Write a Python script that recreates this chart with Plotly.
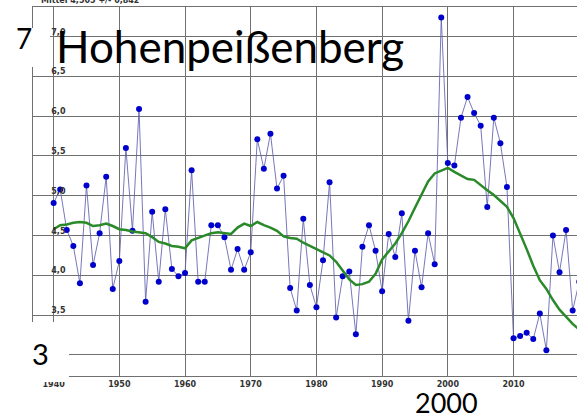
import plotly.graph_objects as go

# Annual series (deg C) and its smoothed trend, Hohenpeissenberg
years = list(range(1940, 2021))
annual = [
    4.91, 5.08, 4.57, 4.37, 3.90, 5.13, 4.13, 4.53, 5.24, 3.83,
    4.18, 5.60, 4.56, 6.09, 3.67, 4.80, 3.92, 4.83, 4.08, 3.99,
    4.03, 5.32, 3.92, 3.92, 4.63, 4.63, 4.48, 4.07, 4.33, 4.07,
    4.29, 5.71, 5.34, 5.78, 5.09, 5.25, 3.84, 3.56, 4.71, 3.88,
    3.60, 4.19, 5.17, 3.47, 3.99, 4.05, 3.26, 4.36, 4.63, 4.31,
    3.80, 4.52, 4.23, 4.78, 3.43, 4.31, 3.85, 4.53, 4.14, 7.24,
    5.41, 5.38, 5.98, 6.24, 6.04, 5.88, 4.86, 5.98, 5.66, 5.11,
    3.21, 3.24, 3.28, 3.20, 3.52, 3.06, 4.50, 4.04, 4.57, 3.56,
    3.92,
]
smooth = [
    4.58, 4.63, 4.64, 4.66, 4.67, 4.66, 4.62, 4.63, 4.65, 4.62,
    4.58, 4.57, 4.55, 4.54, 4.53, 4.48, 4.42, 4.40, 4.37, 4.36,
    4.34, 4.44, 4.47, 4.50, 4.53, 4.54, 4.53, 4.52, 4.60, 4.65,
    4.62, 4.67, 4.63, 4.60, 4.56, 4.49, 4.47, 4.46, 4.41, 4.37,
    4.33, 4.29, 4.25, 4.17, 4.06, 3.95, 3.88, 3.89, 3.92, 4.02,
    4.20, 4.30, 4.40, 4.53, 4.68, 4.85, 5.02, 5.18, 5.28, 5.32,
    5.35, 5.30, 5.25, 5.21, 5.20, 5.13, 5.07, 5.01, 4.94, 4.86,
    4.72, 4.53, 4.33, 4.12, 3.94, 3.83, 3.69, 3.57, 3.48, 3.39,
    3.32,
]

x_tick_vals = [1940, 1950, 1960, 1970, 1980, 1990, 2000, 2010]
x_tick_text = ["1940", "1950", "1960", "1970", "1980", "1990", "2000", "2010"]
y_tick_vals = [3.0, 3.5, 4.0, 4.5, 5.0, 5.5, 6.0, 6.5, 7.0]
y_tick_text = ["3,0", "3,5", "4,0", "4,5", "5,0", "5,5", "6,0", "6,5", "7,0"]
stats_text = "Mittel 4,505 +/- 0,842"

# figure geometry (pixels)
FIG_W, FIG_H = 577, 418
M_L, M_R, M_T, M_B = 33, 0, 7, 42
PW = FIG_W - M_L - M_R
PH = FIG_H - M_T - M_B

# x position (in years) where the y grid labels end
Y_LABEL_X = 1941.8


def px_x(px):
    return (px - M_L) / PW


def px_y(py):
    return (FIG_H - M_B - py) / PH


GRID = "#707070"
LABEL_FONT = dict(family="DejaVu Sans", size=8, color="#333333", weight="bold")
BIG_FONT = "Lato"

fig = go.Figure()

fig.add_trace(go.Scatter(
    x=years, y=annual, mode="lines+markers",
    line=dict(color="rgba(95,95,175,0.85)", width=1),
    marker=dict(color="#0000cc", size=6),
    showlegend=False, hoverinfo="skip",
))
fig.add_trace(go.Scatter(
    x=years, y=smooth, mode="lines",
    line=dict(color="#2a8a2a", width=2.5),
    showlegend=False, hoverinfo="skip",
))
# value labels of the y grid, sitting just above each grid line
fig.add_trace(go.Scatter(
    x=[Y_LABEL_X] * len(y_tick_vals), y=y_tick_vals, mode="text",
    text=y_tick_text, textposition="top left",
    textfont=LABEL_FONT, showlegend=False, hoverinfo="skip",
    cliponaxis=True,
))

fig.update_xaxes(
    range=[1936.86, 2019.66],
    tickvals=x_tick_vals, ticktext=x_tick_text,
    tickfont=LABEL_FONT, ticks="",
    showgrid=True, gridcolor=GRID, gridwidth=1,
    showline=True, linecolor=GRID, linewidth=1, mirror=True,
    zeroline=False,
)
fig.update_yaxes(
    range=[2.736, 7.371],
    tickvals=y_tick_vals, showticklabels=False, ticks="",
    showgrid=True, gridcolor=GRID, gridwidth=1,
    showline=True, linecolor=GRID, linewidth=1, mirror=False,
    zeroline=False,
)

shapes = [
    dict(type="rect", xref="paper", yref="paper",
         x0=px_x(-5), x1=px_x(50), y0=px_y(67), y1=px_y(28),
         fillcolor="white", line=dict(width=0), layer="above"),
    dict(type="rect", xref="paper", yref="paper",
         x0=px_x(31), x1=px_x(69), y0=px_y(382), y1=px_y(322),
         fillcolor="white", line=dict(width=0), layer="above"),
]

annotations = [
    dict(text="Hohenpeißenberg", x=px_x(54), y=px_y(46), xanchor="left", yanchor="middle",
         font=dict(family=BIG_FONT, size=44, color="black")),
    dict(text="7", x=px_x(23.5), y=px_y(38.5), xanchor="center", yanchor="middle",
         font=dict(family=BIG_FONT, size=28, color="black")),
    dict(text="3", x=px_x(40.5), y=px_y(353), xanchor="center", yanchor="middle",
         font=dict(family=BIG_FONT, size=29, color="black")),
    dict(text="2000", x=px_x(446.5), y=px_y(402.5), xanchor="center", yanchor="middle",
         font=dict(family=BIG_FONT, size=27, color="black")),
    dict(text=stats_text, x=px_x(39), y=px_y(1), xanchor="left", yanchor="middle",
         font=LABEL_FONT),
]
for a in annotations:
    a.update(xref="paper", yref="paper", showarrow=False)

fig.update_layout(
    width=FIG_W, height=FIG_H,
    margin=dict(l=M_L, r=M_R, t=M_T, b=M_B, pad=0),
    paper_bgcolor="white", plot_bgcolor="white",
    shapes=shapes, annotations=annotations,
)

fig.write_html("out.html")
